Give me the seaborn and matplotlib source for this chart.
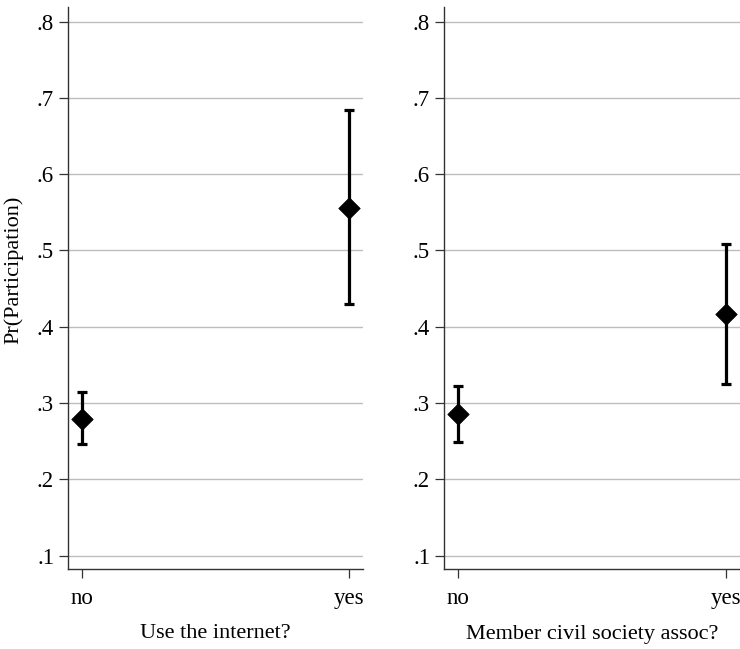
import matplotlib
matplotlib.use("Agg")
import matplotlib.pyplot as plt
import seaborn as sns
import pandas as pd
import numpy as np

categories = ["no", "yes"]
internet_est = [0.279, 0.556]
internet_lo = [0.246, 0.430]
internet_hi = [0.315, 0.684]
assoc_est = [0.286, 0.417]
assoc_lo = [0.249, 0.325]
assoc_hi = [0.323, 0.508]
yticks = [0.1, 0.2, 0.3, 0.4, 0.5, 0.6, 0.7, 0.8]
ytick_labels = [".1", ".2", ".3", ".4", ".5", ".6", ".7", ".8"]
xlabels = ["Use the internet?", "Member civil society assoc?"]
ylabel = "Pr(Participation)"

sns.set_theme(style="white")
plt.rcParams["font.family"] = ["Liberation Serif", "DejaVu Serif"]

fig = plt.figure(figsize=(7.40, 6.49), dpi=100)
W, H = 740, 649
top, bottom = 7, 569
ax1 = fig.add_axes([68 / W, (H - bottom) / H, 295 / W, (bottom - top) / H])
ax2 = fig.add_axes([444 / W, (H - bottom) / H, 296 / W, (bottom - top) / H])

panels = [
    (ax1, internet_est, internet_lo, internet_hi, xlabels[0]),
    (ax2, assoc_est, assoc_lo, assoc_hi, xlabels[1]),
]
for ax, est, lo, hi, xl in panels:
    df = pd.DataFrame({"x": [0, 1], "cat": categories, "est": est, "lo": lo, "hi": hi})
    for y in yticks:
        ax.axhline(y, color="#bdbdbd", lw=1.0, zorder=0)
    ax.errorbar(df["x"], df["est"],
                yerr=[df["est"] - df["lo"], df["hi"] - df["est"]],
                fmt="none", ecolor="black", elinewidth=2.3, capsize=3.6,
                capthick=2.3, zorder=2)
    sns.scatterplot(data=df, x="x", y="est", ax=ax, marker="D", s=120,
                    color="black", edgecolor="black", linewidth=0.5,
                    zorder=3, legend=False)
    ax.set_xlim(-0.052, 1.053)
    ax.set_ylim(0.0826, 0.819)
    ax.set_xticks([0, 1])
    ax.set_xticklabels(categories)
    ax.set_yticks(yticks)
    ax.set_yticklabels(ytick_labels)
    ax.tick_params(axis="both", which="both", direction="out", length=6.5,
                   width=0.9, color="#333333", labelsize=16.5, left=True,
                   bottom=True, pad=3.5)
    ax.tick_params(axis="x", pad=7)
    for side in ["top", "right"]:
        ax.spines[side].set_visible(False)
    for side in ["left", "bottom"]:
        ax.spines[side].set_color("#333333")
        ax.spines[side].set_linewidth(1.0)
    ax.set_xlabel(xl, fontsize=16, color="black", va="center")
    ax.xaxis.set_label_coords(0.5, (bottom - 634) / (bottom - top))
    ax.set_ylabel("")
    ax.grid(False)
    for lab in ax.get_xticklabels() + ax.get_yticklabels():
        lab.set_color("black")

ax1.set_ylabel(ylabel, fontsize=16, color="black", va="center")
ax1.yaxis.set_label_coords((14 - 68) / 295, (bottom - 270) / (bottom - top))

fig.savefig("out.png", dpi=100, facecolor="white")
